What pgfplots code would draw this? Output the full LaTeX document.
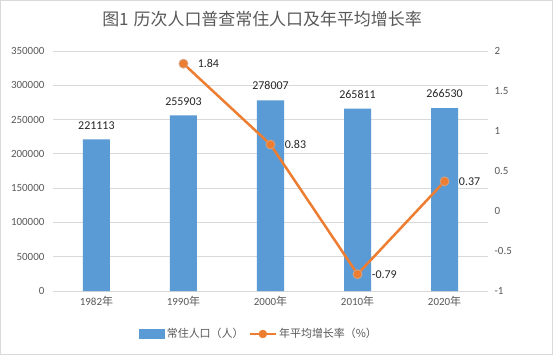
\documentclass[border=0pt]{standalone}
\usepackage{pgfplots}
\pgfplotsset{compat=1.18}
\usepackage{fontspec}
\setmainfont{Carlito}
\newfontfamily\cjk{Noto Sans CJK SC}
\definecolor{barblue}{HTML}{5B9BD5}
\definecolor{lineorange}{HTML}{ED7D31}
\definecolor{gridgray}{HTML}{D9D9D9}
\definecolor{txtgray}{HTML}{595959}
\definecolor{lblgray}{HTML}{262626}
\begin{document}
\begin{tikzpicture}[x=1bp,y=1bp]
\draw[gridgray, line width=0.75bp, fill=white] (0.5,0.5) rectangle (552.5,354.5);
\node[txtgray, font=\cjk\fontsize{17}{19}\selectfont] at (262,336) {图1\hspace{0.3em}历次人口普查常住人口及年平均增长率};
\begin{axis}[
  at={(53bp,64bp)}, anchor=south west, scale only axis,
  width=435bp, height=240bp,
  xmin=-0.5, xmax=4.5, ymin=0, ymax=350000,
  xtick={0,1,2,3,4},
  xticklabels={1982{\cjk 年},1990{\cjk 年},2000{\cjk 年},2010{\cjk 年},2020{\cjk 年}},
  ytick={0,50000,100000,150000,200000,250000,300000,350000},
  scaled y ticks=false,
  axis line style={draw=none},
  major tick length=0pt,
  ymajorgrids, grid style={gridgray, line width=0.75bp},
  yticklabel style={/pgf/number format/fixed, /pgf/number format/1000 sep={}, /pgf/number format/assume math mode=true, font=\fontsize{11}{13}\selectfont, text=txtgray, xshift=-5bp},
  xticklabel style={font=\fontsize{11}{13}\selectfont, text=txtgray, yshift=-2bp},
  clip=false,
]
\addplot[ybar, bar width=27bp, fill=barblue, draw=none,
  nodes near coords,
  nodes near coords style={font=\fontsize{12}{14}\selectfont, text=lblgray, inner sep=0pt, yshift=10bp, /pgf/number format/fixed, /pgf/number format/1000 sep={}, /pgf/number format/assume math mode=true}
] coordinates {(0,221113) (1,255903) (2,278007) (3,265811) (4,266530)};
\end{axis}
\begin{axis}[
  at={(53bp,64bp)}, anchor=south west, scale only axis,
  width=435bp, height=240bp,
  xmin=-0.5, xmax=4.5, ymin=-1, ymax=2,
  ytick={-1,-0.5,0,0.5,1,1.5,2},
  axis y line*=right, axis x line=none,
  axis line style={draw=none},
  major tick length=0pt,
  yticklabel style={/pgf/number format/fixed, /pgf/number format/assume math mode=true, font=\fontsize{11}{13}\selectfont, text=txtgray, xshift=3bp},
  clip=false,
  legend style={at={(0.474,-0.179)}, anchor=center, draw=none, fill=none, legend columns=-1, font=\cjk\fontsize{11}{13}\selectfont, text=txtgray, nodes={inner sep=2bp}, /tikz/every even column/.append style={column sep=3bp}},
]
\addlegendimage{legend image code/.code={\fill[barblue] (0bp,-4.5bp) rectangle (25bp,4.5bp);}}
\addlegendentry{常住人口（人）}
\addlegendimage{legend image code/.code={\draw[lineorange, line width=2.5bp] (0bp,0bp) -- (26bp,0bp); \fill[lineorange] (13bp,0bp) circle (4bp);}}
\addlegendentry{年平均增长率（\%）}
\addplot[lineorange, line width=2.5bp, mark=*, mark size=4.5bp,
  mark options={fill=lineorange, draw=lineorange!60!gray!70, line width=0.75bp},
  nodes near coords,
  nodes near coords style={anchor=west, inner sep=0pt, xshift=14bp, yshift=0bp, font=\fontsize{12}{14}\selectfont, text=lblgray, /pgf/number format/fixed, /pgf/number format/precision=2, /pgf/number format/assume math mode=true},
] coordinates {(1,1.84) (2,0.83) (3,-0.79) (4,0.37)};
\end{axis}
\end{tikzpicture}
\end{document}
